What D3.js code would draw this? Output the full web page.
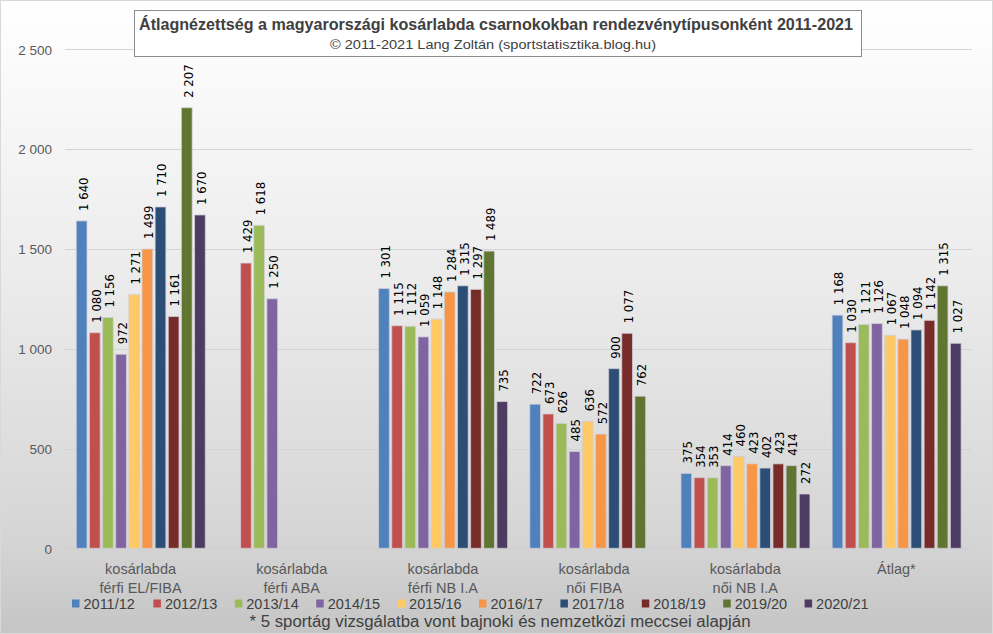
<!DOCTYPE html>
<html>
<head>
<meta charset="utf-8">
<script src="https://cdn.jsdelivr.net/npm/d3@7"></script>
<style>
  html, body { margin: 0; padding: 0; background: #fff; }
  svg { display: block; }
</style>
</head>
<body>
<svg id="chart" width="993" height="634"></svg>
<script>
// ---- data ----
const categories = [
  ["kosárlabda", "férfi EL/FIBA"],
  ["kosárlabda", "férfi ABA"],
  ["kosárlabda", "férfi NB I.A"],
  ["kosárlabda", "női FIBA"],
  ["kosárlabda", "női NB I.A"],
  ["Átlag*"]
];
const seasons = ["2011/12","2012/13","2013/14","2014/15","2015/16","2016/17","2017/18","2018/19","2019/20","2020/21"];
const ferfiELFIBA = [1640, 1080, 1156, 972, 1271, 1499, 1710, 1161, 2207, 1670];
const ferfiABA    = [null, 1429, 1618, 1250, null, null, null, null, null, null];
const ferfiNBIA   = [1301, 1115, 1112, 1059, 1148, 1284, 1315, 1297, 1489, 735];
const noiFIBA     = [722, 673, 626, 485, 636, 572, 900, 1077, 762, null];
const noiNBIA     = [375, 354, 353, 414, 460, 423, 402, 423, 414, 272];
const atlag       = [1168, 1030, 1121, 1126, 1067, 1048, 1094, 1142, 1315, 1027];
const seriesByCategory = [ferfiELFIBA, ferfiABA, ferfiNBIA, noiFIBA, noiNBIA, atlag];
const yTicks = [0, 500, 1000, 1500, 2000, 2500];
const colors = ["#4F81BD","#C0504D","#9BBB59","#8064A2","#FFCA66","#F79646","#2C4D75","#772C2A","#5F7530","#4D3B62"];
const titleText = "Átlagnézettség a magyarországi kosárlabda csarnokokban rendezvénytípusonként 2011-2021";
const subtitleText = "© 2011-2021 Lang Zoltán (sportstatisztika.blog.hu)";
const footnoteText = "* 5 sportág vizsgálatba vont bajnoki és nemzetközi meccsei alapján";

// ---- setup ----
const W = 993, H = 634;
const svg = d3.select("#chart");
const defs = svg.append("defs");
const grad = defs.append("linearGradient").attr("id", "bg").attr("x1", 0).attr("y1", 0).attr("x2", 0).attr("y2", 1);
[[0, "#ffffff"], [0.45, "#ebebeb"], [0.85, "#d5d5d5"], [1, "#c5c5c5"]].forEach(([o, c]) =>
  grad.append("stop").attr("offset", o).attr("stop-color", c));

svg.append("rect").attr("x", 0.5).attr("y", 0.5).attr("width", W - 1).attr("height", H - 1)
  .attr("fill", "url(#bg)").attr("stroke", "#d9d9d9");

const plot = { left: 65, right: 972, top: 49.3, bottom: 548.3 };
const x0 = d3.scaleBand().domain(d3.range(categories.length)).range([plot.left, plot.right]).padding(0);
const x1 = d3.scaleBand().domain(seasons).range([11.3, x0.bandwidth() - 10.9]).paddingInner(0.186).paddingOuter(0);
const y = d3.scaleLinear().domain([0, 2500]).range([plot.bottom, plot.top]);
const fmt = v => d3.format(",")(v).replace(/,/g, " ");

// gridlines
svg.append("g").selectAll("line").data(yTicks).join("line")
  .attr("x1", plot.left).attr("x2", plot.right)
  .attr("y1", d => Math.round(y(d)) + 0.5).attr("y2", d => Math.round(y(d)) + 0.5)
  .attr("stroke", d => d === 0 ? "#cfcfcf" : "#d4d4d4").attr("stroke-width", 1);

// y axis labels
const yAxis = d3.axisLeft(y).tickValues(yTicks).tickFormat(fmt).tickSize(0).tickPadding(0);
const yg = svg.append("g").attr("transform", `translate(52,0)`).call(yAxis);
yg.select(".domain").remove();
yg.selectAll("text").attr("font-family", "'Liberation Sans', Arial, sans-serif")
  .attr("font-size", "13.5px").attr("fill", "#595959").attr("dy", "0.35em");

// bars
const groups = svg.append("g").selectAll("g").data(seriesByCategory).join("g")
  .attr("transform", (d, i) => `translate(${x0(i)},0)`);

groups.each(function(vals) {
  const g = d3.select(this);
  const pts = vals.map((v, j) => ({ v, s: seasons[j], c: colors[j] })).filter(p => p.v != null);
  g.selectAll("rect").data(pts).join("rect")
    .attr("x", p => x1(p.s)).attr("width", x1.bandwidth())
    .attr("y", p => y(p.v)).attr("height", p => y(0) - y(p.v))
    .attr("fill", p => p.c)
    .attr("stroke", "rgba(210,205,215,0.75)").attr("stroke-width", 1);
  g.selectAll("text").data(pts).join("text")
    .attr("transform", p => `translate(${x1(p.s) + x1.bandwidth() / 2},${y(p.v) - 10}) rotate(-90)`)
    .attr("dy", "0.45em")
    .attr("font-family", "'DejaVu Sans Condensed', 'DejaVu Sans', Verdana, sans-serif")
    .attr("font-stretch", "condensed")
    .attr("font-size", "13px").attr("fill", "#000")
    .text(p => fmt(p.v));
});

// category labels
const catG = svg.append("g");
categories.forEach((lines, i) => {
  const t = catG.append("text")
    .attr("x", x0(i) + x0.bandwidth() / 2).attr("y", 574)
    .attr("text-anchor", "middle")
    .attr("font-family", "'Liberation Sans', Arial, sans-serif")
    .attr("font-size", "14.5px").attr("fill", "#595959");
  lines.forEach((l, k) => t.append("tspan").attr("x", x0(i) + x0.bandwidth() / 2).attr("dy", k === 0 ? 0 : 18.5).text(l));
});

// legend
const legend = svg.append("g").attr("transform", "translate(72,603.5)");
const li = legend.selectAll("g").data(seasons).join("g").attr("transform", (d, i) => `translate(${i * 81.4},0)`);
li.append("rect").attr("x", 0).attr("y", -4).attr("width", 7.5).attr("height", 8).attr("fill", (d, i) => colors[i]);
li.append("text").attr("x", 11.5).attr("y", 0).attr("dy", "0.36em")
  .attr("font-family", "'Liberation Sans', Arial, sans-serif")
  .attr("font-size", "14.5px").attr("fill", "#404040").text(d => d);

// footnote
svg.append("text").attr("x", 500).attr("y", 627).attr("text-anchor", "middle")
  .attr("font-family", "'Liberation Sans', Arial, sans-serif").attr("font-size", "16px")
  .attr("fill", "#404040").attr("textLength", 501).attr("lengthAdjust", "spacingAndGlyphs")
  .text(footnoteText);

// title box
svg.append("rect").attr("x", 134.5).attr("y", 10.5).attr("width", 727).attr("height", 46)
  .attr("fill", "#ffffff").attr("stroke", "#8c8c8c").attr("stroke-width", 1);
svg.append("text").attr("x", 496).attr("y", 30).attr("text-anchor", "middle")
  .attr("font-family", "'Liberation Sans', Arial, sans-serif").attr("font-weight", "bold")
  .attr("font-size", "16px").attr("fill", "#404040")
  .attr("textLength", 714).attr("lengthAdjust", "spacingAndGlyphs")
  .text(titleText);
svg.append("text").attr("x", 493).attr("y", 49).attr("text-anchor", "middle")
  .attr("font-family", "'Liberation Sans', Arial, sans-serif")
  .attr("font-size", "12.5px").attr("fill", "#404040")
  .attr("textLength", 326).attr("lengthAdjust", "spacingAndGlyphs")
  .text(subtitleText);
</script>
</body>
</html>
